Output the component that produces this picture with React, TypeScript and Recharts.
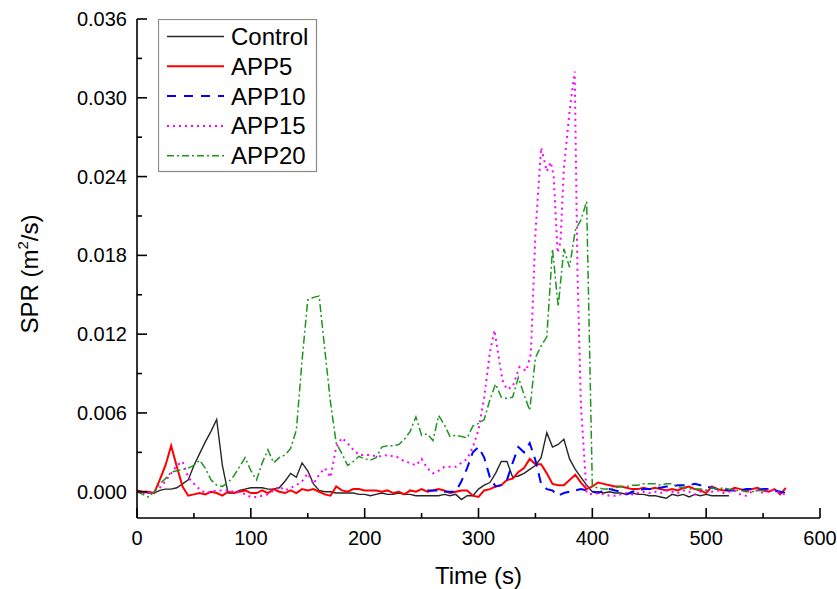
import React from 'react';
import { LineChart, Line, XAxis, YAxis, Label } from 'recharts';

const FONT = '"Liberation Sans", Arial, Helvetica, sans-serif';

const xTicks = [0, 50, 100, 150, 200, 250, 300, 350, 400, 450, 500, 550, 600];
const yTicks = [0, 0.003, 0.006, 0.009, 0.012, 0.015, 0.018, 0.021, 0.024, 0.027, 0.03, 0.033, 0.036];

const seriesNames = ['Control', 'APP5', 'APP10', 'APP15', 'APP20'];

const control: number[][] = [
  [0, 0], [5, 0], [10, -0.0001], [15, -0.0001], [20, 0.0001], [25, 0.0002], [30, 0.0002], [35, 0.0003], [40, 0.0006], [45, 0.0009],
  [50, 0.002], [55, 0.0029], [60, 0.0038], [65, 0.0046], [70, 0.0055], [75, 0.002], [80, -0.0001], [85, -0.0001], [90, 0.0001], [95, 0.0002],
  [100, 0.0003], [105, 0.0003], [110, 0.0003], [115, 0.0002], [120, 0.0002], [125, 0.0003], [130, 0.0008], [135, 0.0014], [140, 0.0011], [145, 0.0022],
  [150, 0.0016], [155, 0.0006], [160, 0.0001], [165, 0], [170, 0], [175, -0.0001], [180, -0.0001], [185, -0.0001], [190, -0.0001], [195, -0.0002],
  [200, -0.0002], [205, -0.0003], [210, -0.0002], [215, -0.0001], [220, -0.0002], [225, -0.0002], [230, -0.0001], [235, -0.0002], [240, -0.0002], [245, -0.0003],
  [250, -0.0003], [255, -0.0003], [260, -0.0003], [265, -0.0003], [270, -0.0002], [275, -0.0003], [280, -0.0002], [285, -0.0006], [290, -0.0003], [295, -0.0003],
  [300, 0.0002], [305, 0.0005], [310, 0.0007], [315, 0.0014], [320, 0.0023], [325, 0.0023], [330, 0.0011], [335, 0.0012], [340, 0.0014], [345, 0.0017],
  [350, 0.002], [355, 0.0026], [360, 0.0045], [365, 0.0034], [370, 0.0036], [375, 0.004], [380, 0.0025], [385, 0.0017], [390, 0.0011], [395, 0.0005],
  [400, 0], [405, 0], [410, -0.0001], [415, 0], [420, -0.0001], [425, -0.0001], [430, -0.0002], [435, -0.0001], [440, -0.0002], [445, -0.0002],
  [450, -0.0003], [455, -0.0003], [460, -0.0004], [465, -0.0005], [470, -0.0002], [475, -0.0003], [480, -0.0002], [485, -0.0004], [490, -0.0002], [495, -0.0003],
  [500, -0.0002], [505, -0.0003], [510, -0.0003], [515, -0.0003], [520, -0.0003],
];

const app5: number[][] = [
  [0, 0.0001], [5, 0], [10, 0], [15, -0.0001], [20, 0.0009], [25, 0.002], [30, 0.0035], [35, 0.0019], [40, 0.0004], [45, -0.0003],
  [50, -0.0002], [55, -0.0001], [60, -0.0002], [65, 0], [70, -0.0001], [75, -0.0003], [80, 0], [85, -0.0001], [90, 0], [95, 0.0001],
  [100, -0.0001], [105, -0.0001], [110, 0.0001], [115, -0.0001], [120, 0.0002], [125, 0], [130, -0.0001], [135, 0.0001], [140, -0.0001], [145, 0.0002],
  [150, 0.0001], [155, 0.0002], [160, 0], [165, -0.0002], [170, -0.0003], [175, 0.0004], [180, 0.0001], [185, 0], [190, 0.0002], [195, 0.0002],
  [200, 0.0001], [205, 0.0001], [210, 0.0001], [215, 0], [220, 0.0001], [225, -0.0001], [230, 0], [235, -0.0002], [240, 0.0001], [245, 0],
  [250, 0.0002], [255, 0], [260, 0.0001], [265, 0.0002], [270, 0.0001], [275, -0.0001], [280, 0], [285, 0.0001], [290, 0.0001], [295, -0.0003],
  [300, -0.0004], [305, 0.0001], [310, 0.0002], [315, 0.0004], [320, 0.0005], [325, 0.0009], [330, 0.001], [335, 0.0015], [340, 0.0018], [345, 0.0025],
  [350, 0.0021], [355, 0.0021], [360, 0.0014], [365, 0.0006], [370, 0.0005], [375, 0.0005], [380, 0.0009], [385, 0.0013], [390, 0.0007], [395, 0.0002],
  [400, 0.0004], [405, 0.0007], [410, 0.0006], [415, 0.0005], [420, 0.0004], [425, 0.0004], [430, 0.0003], [435, 0.0002], [440, 0.0002], [445, 0.0003],
  [450, 0.0002], [455, 0.0003], [460, 0.0002], [465, 0.0001], [470, 0.0002], [475, 0.0001], [480, 0.0003], [485, 0.0004], [490, 0.0002], [495, 0.0001],
  [500, -0.0001], [505, 0.0004], [510, 0.0002], [515, 0.0001], [520, 0.0001], [525, 0.0003], [530, 0.0002], [535, 0.0001], [540, 0.0002], [545, 0.0003],
  [550, 0.0001], [555, 0], [560, 0.0002], [565, -0.0002], [570, 0.0003],
];

const app10: number[][] = [
  [255, 0.0001], [260, 0.0001], [265, 0.0001], [270, 0], [275, 0], [280, 0], [285, 0.0008], [290, 0.0018], [295, 0.003], [300, 0.0034],
  [305, 0.0026], [310, 0.0011], [315, 0.0004], [320, 0.0005], [325, 0.0009], [330, 0.0022], [335, 0.0034], [340, 0.003], [345, 0.0037], [350, 0.0024],
  [355, 0.0006], [360, 0.0002], [365, 0.0001], [370, -0.0003], [375, -0.0001], [380, 0], [385, 0.0001], [390, 0.0002], [395, 0.0001], [400, 0],
  [405, -0.0001], [410, 0.0001], [415, 0.0002], [420, 0.0001], [425, 0], [430, -0.0002], [435, 0], [440, 0.0001], [445, 0.0002], [450, 0.0002],
  [455, 0.0003], [460, 0.0003], [465, 0.0004], [470, 0.0004], [475, 0.0005], [480, 0.0005], [485, 0.0005], [490, 0.0006], [495, 0.0005], [500, 0.0004],
  [505, 0.0003], [510, 0.0002], [515, 0.0002], [520, 0.0001], [525, 0.0001], [530, 0.0001], [535, 0.0002], [540, 0.0002], [545, 0.0001], [550, 0.0002],
  [555, 0.0002], [560, 0.0001], [565, 0], [570, -0.0001],
];

const app15: number[][] = [
  [0, 0], [5, -0.0001], [10, -0.0001], [15, 0], [20, 0.0003], [25, 0.0008], [30, 0.0014], [35, 0.002], [40, 0.0023], [45, 0.0011],
  [50, 0.0006], [55, 0.0002], [60, -0.0001], [65, 0], [70, 0.0001], [75, 0.0001], [80, 0.0001], [85, 0], [90, 0], [95, -0.0002],
  [100, -0.0004], [105, -0.0004], [110, -0.0003], [115, -0.0002], [120, 0.0001], [125, 0.0004], [130, 0.0001], [135, 0.0003], [140, 0.0005], [145, 0.0008],
  [150, 0.0014], [155, 0.0006], [160, 0.0013], [165, 0.0018], [170, 0.0011], [175, 0.0034], [180, 0.0041], [185, 0.0037], [190, 0.0032], [195, 0.0028],
  [200, 0.0028], [205, 0.0028], [210, 0.0027], [215, 0.0027], [220, 0.0028], [225, 0.0027], [230, 0.0026], [235, 0.0023], [240, 0.0022], [245, 0.002],
  [250, 0.0025], [255, 0.0018], [260, 0.0014], [265, 0.0016], [270, 0.0019], [275, 0.0019], [280, 0.0019], [285, 0.0022], [290, 0.0025], [295, 0.0034],
  [300, 0.0047], [305, 0.0072], [310, 0.0106], [314, 0.0123], [318, 0.0101], [321, 0.0085], [325, 0.0078], [330, 0.008], [336, 0.0095], [342, 0.0092],
  [346, 0.0105], [350, 0.0197], [355, 0.0262], [357, 0.0255], [360, 0.0244], [363.5, 0.0251], [366, 0.0241], [369.5, 0.0182], [372, 0.019], [375, 0.0246],
  [380, 0.029], [384.5, 0.032], [387, 0.0165], [390, 0.0065], [395, -0.0001], [400, -0.0002], [405, -0.0001], [410, -0.0002], [415, -0.0003], [420, -0.0003],
  [425, -0.0002], [430, -0.0001], [435, -0.0002], [440, -0.0001], [445, 0], [450, -0.0001], [455, 0], [460, -0.0001], [465, 0.0001], [470, 0],
  [475, -0.0001], [480, 0.0001], [485, 0], [490, -0.0002], [495, 0], [500, 0.0001], [505, 0], [510, 0.0001], [515, -0.0001], [520, 0],
  [525, 0.0001], [530, -0.0002], [535, -0.0003], [540, 0], [545, 0.0001], [550, -0.0001], [555, 0.0002], [560, 0.0001], [565, -0.0001], [570, -0.0002],
];

const app20: number[][] = [
  [0, 0], [5, -0.0002], [10, -0.0004], [15, 0], [20, 0.0006], [25, 0.001], [30, 0.0015], [35, 0.0016], [40, 0.0017], [45, 0.0018],
  [50, 0.002], [55, 0.0024], [60, 0.0018], [65, 0.0009], [70, 0.0005], [75, 0.0004], [80, 0.0007], [85, 0.0012], [90, 0.0019], [95, 0.0026],
  [100, 0.0016], [105, 0.0009], [110, 0.0022], [115, 0.0032], [120, 0.0022], [125, 0.0026], [130, 0.0028], [135, 0.0033], [140, 0.0047], [145, 0.01],
  [150, 0.0146], [155, 0.0148], [160, 0.0149], [165, 0.0108], [170, 0.0068], [175, 0.0037], [180, 0.0029], [185, 0.002], [190, 0.0023], [195, 0.0027],
  [200, 0.0025], [205, 0.0024], [210, 0.0026], [215, 0.0034], [220, 0.0035], [225, 0.0035], [230, 0.0036], [235, 0.004], [240, 0.0046], [245, 0.0057],
  [250, 0.0043], [255, 0.0044], [260, 0.0039], [265, 0.0058], [270, 0.0051], [275, 0.0042], [280, 0.0043], [285, 0.0042], [290, 0.0041], [295, 0.005],
  [300, 0.0052], [305, 0.0055], [310, 0.007], [315, 0.0082], [320, 0.0072], [325, 0.0071], [330, 0.0072], [335, 0.0087], [340, 0.0074], [345, 0.0062],
  [350, 0.0102], [355, 0.0111], [360, 0.0118], [365, 0.0185], [370, 0.0141], [375, 0.0185], [380, 0.0171], [385, 0.0199], [390, 0.0207], [395, 0.0221],
  [400, 0.0004], [405, 0.0003], [410, 0.0002], [415, 0.0002], [420, 0.0003], [425, 0.0004], [430, 0.0004], [435, 0.0005], [440, 0.0005], [445, 0.0006],
  [450, 0.0006], [455, 0.0006], [460, 0.0005], [465, 0.0006], [470, 0.0006], [475, 0.0004], [480, 0.0003], [485, 0.0002], [490, 0.0002], [495, 0.0002],
  [500, 0.0001], [505, 0.0003], [510, 0.0002], [515, 0.0003], [520, 0.0002], [525, 0.0001], [530, 0.0001], [535, 0], [540, 0], [545, 0.0001],
  [550, 0.0001], [555, 0.0002],
];

const toRows = (pairs: number[][]) => pairs.map(([t, v]) => ({ t, v }));

const styles = [
  { stroke: '#262626', width: 1.4, dash: undefined as string | undefined, legendDash: undefined as string | undefined },
  { stroke: '#ff0000', width: 2, dash: undefined, legendDash: undefined },
  { stroke: '#0000ff', width: 2, dash: '10 7', legendDash: '9 8' },
  { stroke: '#ff00ff', width: 2, dash: '2 4', legendDash: '2 4' },
  { stroke: '#1e951e', width: 1.5, dash: '8 3 2 3', legendDash: '7 3 2 3' },
];

const seriesData = [control, app5, app10, app15, app20];

const XTick = (props: any) => {
  const { x, y, payload } = props;
  const major = payload.value % 100 === 0;
  return (
    <g>
      <line x1={x} x2={x} y1={y} y2={y - (major ? 10 : 5)} stroke="#000" strokeWidth={1.6} />
      {major && (
        <text x={x} y={y + 27} textAnchor="middle" fontSize={20} fontFamily={FONT} fill="#000">
          {payload.value}
        </text>
      )}
    </g>
  );
};

const YTick = (props: any) => {
  const { x, y, payload } = props;
  const major = Math.round(payload.value / 0.003) % 2 === 0;
  return (
    <g>
      <line x1={x} x2={x + (major ? 10 : 5)} y1={y} y2={y} stroke="#000" strokeWidth={1.6} />
      {major && (
        <text x={x - 10} y={y} dy="0.35em" textAnchor="end" fontSize={20} fontFamily={FONT} fill="#000">
          {payload.value.toFixed(3)}
        </text>
      )}
    </g>
  );
};

const XTitle = () => (
  <text x={478.5} y={584} textAnchor="middle" fontSize={24} fontFamily={FONT} fill="#000">
    Time (s)
  </text>
);

const YTitle = () => (
  <text x={30} y={274} transform="rotate(-90 30 274)" dy="0.35em" textAnchor="middle" fontSize={24} fontFamily={FONT} fill="#000">
    <tspan>SPR (m</tspan>
    <tspan dy={-10} fontSize={15}>2</tspan>
    <tspan dy={10} fontSize={24}>/s)</tspan>
  </text>
);

const LegendBox = () => (
  <svg width={160} height={154} style={{ position: 'absolute', left: 158, top: 19 }}>
    <rect x={0.5} y={0.5} width={158} height={152} fill="#fff" stroke="#8a8a8a" strokeWidth={1.2} />
    {seriesNames.map((name, i) => {
      const cy = 17.5 + i * 29.8;
      const s = styles[i];
      return (
        <g key={name}>
          <line x1={9} x2={66} y1={cy} y2={cy} stroke={s.stroke} strokeWidth={s.width} strokeDasharray={s.legendDash} />
          <text x={73} y={cy} dy="0.35em" fontSize={24} fontFamily={FONT} fill="#000">
            {name}
          </text>
        </g>
      );
    })}
  </svg>
);

export default function App() {
  return (
    <div style={{ position: 'absolute', left: 0, top: 0, width: 837, height: 589, background: '#fff' }}>
      <LineChart width={837} height={589} margin={{ top: 19, right: 17, bottom: 31, left: 77 }}>
        <XAxis
          type="number"
          dataKey="t"
          domain={[0, 600]}
          ticks={xTicks}
          interval={0}
          tick={<XTick />}
          tickLine={false}
          tickSize={0}
          tickMargin={0}
          height={40}
          allowDataOverflow
          axisLine={{ stroke: '#000', strokeWidth: 1.6 }}
        >
          <Label content={<XTitle />} />
        </XAxis>
        <YAxis
          type="number"
          dataKey="v"
          domain={[-0.002, 0.036]}
          ticks={yTicks}
          interval={0}
          tick={<YTick />}
          tickLine={false}
          tickSize={0}
          tickMargin={0}
          width={60}
          allowDataOverflow
          axisLine={{ stroke: '#000', strokeWidth: 1.6 }}
        >
          <Label content={<YTitle />} />
        </YAxis>
        {seriesData.map((d, i) => (
          <Line
            key={seriesNames[i]}
            name={seriesNames[i]}
            data={toRows(d)}
            dataKey="v"
            type="linear"
            dot={false}
            activeDot={false}
            stroke={styles[i].stroke}
            strokeWidth={styles[i].width}
            strokeDasharray={styles[i].dash}
            isAnimationActive={false}
          />
        ))}
      </LineChart>
      <LegendBox />
    </div>
  );
}
